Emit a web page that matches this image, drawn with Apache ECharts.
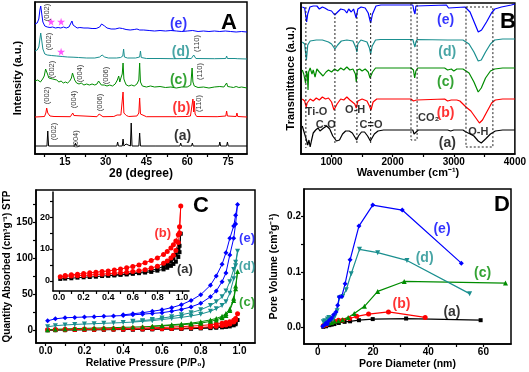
<!DOCTYPE html>
<html><head><meta charset="utf-8">
<script src="https://cdn.jsdelivr.net/npm/echarts@6/dist/echarts.min.js"></script>
<style>html,body{margin:0;padding:0;background:#fff}#c{width:529px;height:372px}</style>
</head><body><div id="c"></div>
<script>
// ---------- Panel A: XRD (2θ, intensity above each pattern's baseline) ----------
const xrdOffsets = [8, 37, 66, 95, 122]; // (a)..(e)
const xrdA = [[4,0],[8.4,0],[8.7,15],[9.0,0],[18.6,0],[18.9,3],[19.2,0],[34.1,0],[34.4,4],[34.7,0],[36.1,0],[36.4,7],[36.7,0],[37.3,0],[37.5,2],[37.7,0],[39.1,0],[39.4,23],[39.7,0],[42.2,0],[42.5,13],[42.8,0],[48.5,0],[48.7,2],[48.9,0],[57.3,0],[57.6,3],[57.9,0],[61.6,0],[61.9,3],[62.2,0],[71.7,0],[72,4],[72.3,0],[74.5,0],[74.8,4],[75.1,0],[76.1,0],[76.4,2],[76.7,0],[82,0]];
const xrdB = [[4,0],[7.5,0.5],[8.0,4],[8.3,9],[8.7,4],[9.5,1],[11,0.5],[17,0.3],[17.6,2],[17.9,4],[18.3,1.5],[19,0.3],[26.8,0.3],[27.3,2],[27.6,3],[28,1],[29,0.3],[33,0.5],[34.2,2],[34.8,3],[35.6,2],[36.1,4],[36.4,25],[36.7,4],[37.1,2.5],[37.6,1.5],[38.5,0.5],[41.5,1],[42.2,4],[42.5,19],[42.8,3],[43.5,1],[45,0.3],[56,0.3],[60,0.5],[61.2,1],[61.8,3],[62.1,18],[62.4,5],[62.6,16],[62.9,3],[63.5,0.5],[71,0.3],[74.2,1],[74.5,6],[74.8,1],[78,0.5],[78.3,4],[78.6,0.5],[82,0]];
const xrdC = [[4,7],[5,8],[6,6],[6.8,9],[7.4,12],[7.9,19],[8.2,20],[8.6,14],[9.1,10],[9.8,8],[10.5,9],[11.2,7],[12,8],[12.8,6],[13.6,7],[14.4,5],[15.2,6],[16,5],[16.8,7],[17.4,10],[17.8,15],[18.1,14],[18.6,8],[19.3,5],[20.2,4],[21,5],[22,3],[23,4],[24,3],[25,4],[26,3],[26.8,4],[27.4,7],[27.8,6],[28.4,3],[29.5,3],[30.5,2],[31.5,3],[32.5,2],[33.5,4],[34.3,8],[34.8,12],[35.2,6],[35.6,10],[36.1,14],[36.4,25],[36.7,9],[37.1,6],[37.6,3],[38.5,2],[39.5,3],[40.5,2],[41.5,4],[42.2,8],[42.5,25],[42.8,6],[43.5,2],[45,1],[46.5,2],[48,1],[50,1.5],[52,0.5],[54,1],[56,0],[58,1],[60,1],[61.3,3],[61.8,20],[62.1,6],[62.6,2],[64,0.5],[66,1],[68,0],[70,1],[72,1.5],[73.5,1],[74.2,2],[74.5,5],[74.9,1.5],[76,1],[77,0.5],[78,1.5],[79,0.5],[80,1],[82,0]];
const xrdD = [[4,8],[4.8,9],[5.4,12],[5.8,20],[6.1,26],[6.4,20],[6.9,10],[7.6,5],[8.5,4],[10,3.5],[12,3],[14,2.5],[16,2],[18,1.8],[20,1.5],[23,1],[26,1],[27.8,2],[28.7,4],[29.6,2],[31,1],[34,1],[35.5,1.5],[36.3,3],[36.6,10],[36.9,2],[38,1],[41,1],[42.5,2],[42.8,8],[43.1,1.5],[45,0.5],[50,0.5],[55,0.3],[61.5,0.5],[62.4,4],[63.2,0.5],[70,0.3],[74.2,0.5],[74.5,3],[74.8,0.5],[77.6,0.5],[78,2],[78.4,0.3],[82,0]];
const xrdE = [[4,8],[4.8,9],[5.4,13],[5.8,22],[6.1,26],[6.4,20],[6.9,10],[7.6,6],[8.5,5],[9.5,4.5],[10.5,5],[11.5,4],[12.5,4.5],[13.5,4],[14.5,5],[15.5,4],[16.5,5],[17.2,7],[17.6,11],[18,7],[18.6,5],[19.5,4],[20.5,4.5],[22,4],[23.5,4],[25,3.5],[26.5,3.5],[27.8,5],[28.5,8],[29,9],[29.6,6],[30.5,4],[32,3],[33.5,3],[35,4],[35.6,5.5],[36.2,3.5],[37.5,2.5],[39,2],[40.5,2.5],[41.5,3],[42.5,2],[44,2],[46,1.5],[48,1],[50,1.5],[52,1],[54,1.5],[56,1],[58,0.5],[60,1],[62,1.5],[64,0.5],[66,1],[68,0.5],[70,1],[72,0.5],[74,1],[76,0.5],[78,0],[80,0.5],[82,0]];
const peakLabelsA = [['(002)',8.3,141.5],['(002)',9.2,112.5],['(110)',63.7,110.5],['(002)',10.3,84.5],['(004)',20.6,80.5],['(006)',30.2,78.5],['(110)',64.7,82.5],['(002)',8.5,58.5],['(004)',18.4,54.5],['(006)',28,51.5],['(110)',64.5,50.5],['(002)',10.9,22.5],['(004)',18.9,15]];
const curveLabelsA = [['(a)',58.3,18],['(b)',57.9,46],['(c)',56.8,74],['(d)',57.6,102],['(e)',56.8,130]];
const starsA = [[9.9,132.3],[13.6,132.3],[13.6,102.3]];
const ticksA = [15,30,45,60,75];

// ---------- Panel B: FTIR (wavenumber, stacked transmittance) ----------
const ftirA = [[521,28],[550,22],[580,16],[610,9],[630,14],[650,7],[670,13],[700,21],[740,24],[780,26],[810,23],[840,21],[870,26],[920,28],[970,25],[1020,18],[1080,13],[1130,14],[1180,20],[1230,23],[1290,23],[1340,21],[1380,17],[1410,14],[1440,18],[1490,22],[1540,22],[1590,18],[1635,13],[1660,15],[1700,20],[1760,23],[1850,24],[2330,24],[2350,20],[2365,18],[2385,22],[2420,24],[2900,24],[2950,23],[3000,24],[3150,24],[3200,22],[3270,20],[3330,18],[3400,13],[3450,11],[3520,15],[3600,20],[3680,23],[3800,24],[4000,24]];
const ftirB = [[521,55],[560,53],[585,47],[600,51],[650,55],[700,53],[750,56],[800,54],[850,57],[900,55],[950,56],[1000,52],[1040,44],[1060,42],[1090,50],[1150,55],[1200,54],[1250,57],[1300,54],[1380,50],[1405,46],[1430,53],[1500,55],[1580,53],[1620,48],[1645,44],[1680,52],[1740,55],[2300,55],[2340,53],[2365,51],[2390,54],[2420,55],[2850,55],[2900,53],[2930,51],[2960,54],[3050,54],[3100,53],[3200,47],[3280,43],[3350,37],[3420,31],[3470,34],[3540,42],[3620,51],[3680,54],[3800,55],[4000,55]];
const ftirC = [[521,84],[545,80],[560,82],[575,71],[590,83],[605,79],[615,64],[625,82],[650,86],[680,80],[700,84],[730,77],[760,85],[800,82],[830,84],[860,78],[890,76],[910,82],[950,84],[1000,82],[1050,85],[1100,83],[1150,86],[1200,84],[1250,87],[1300,84],[1350,85],[1390,80],[1405,72],[1420,84],[1460,85],[1500,83],[1550,85],[1600,82],[1630,76],[1645,74],[1670,82],[1720,86],[1800,86],[2300,86],[2340,84],[2360,76],[2380,83],[2410,86],[2850,86],[2900,84],[2930,82],[2960,85],[3000,83],[3050,85],[3150,85],[3250,81],[3330,72],[3400,62],[3450,66],[3520,76],[3600,83],[3670,85],[3800,86],[4000,86]];
const ftirD = [[521,112],[560,110],[588,94],[610,109],[650,113],[750,114],[850,114],[950,112],[1000,110],[1055,105],[1100,109],[1160,113],[1250,114],[1350,113],[1400,106],[1415,102],[1430,110],[1480,114],[1580,112],[1620,106],[1640,100],[1665,108],[1720,114],[1800,114.5],[2330,114.5],[2350,110],[2365,107],[2380,112],[2400,114.5],[2900,114],[2920,112],[2950,114],[3150,114],[3250,110],[3330,102],[3400,93],[3450,94],[3520,102],[3600,110],[3670,114],[3800,115],[4000,115]];
const ftirE = [[521,147],[560,146],[592,132],[610,140],[646,147],[700,148],[727,146],[760,148],[800,145],[850,147],[889,146],[943,144],[1000,143],[1051,139],[1100,142],[1150,145],[1213,144],[1250,141],[1280,145],[1322,142],[1360,145],[1403,136],[1430,145],[1484,147],[1550,146],[1600,141],[1640,131],[1670,140],[1727,148],[1808,149],[2330,149],[2345,144],[2355,146],[2365,140],[2380,148],[2400,149],[2880,149],[2915,146],[2940,148],[3185,147],[3266,142],[3347,130],[3401,122],[3455,124],[3536,132],[3617,141],[3672,145],[3780,147],[3942,149],[4000,150]];
const bandLinesB = [[580,147,6],[1055,141,10],[1415,141,10],[1640,141,10]]; // wavenumber, top, bottom
const bandBoxesB = [[2300,2400,151,14],[3200,3640,147,7]];
const annB = [['Ti-O',754,42.3],['C-O',905,29],['O-H',1387,44],['C=O',1646,29],['CO₂',2591,35.7],['O-H',3401,22.3]];
const curveLabelsB = [['(a)',2894,10.7],['(b)',2866,40.7],['(c)',2866,72.3],['(d)',2894,102.3],['(e)',2866,134]];
const ticksB = [1000,2000,3000,4000];

// ---------- Panel C: N2 isotherms ----------
const pAds = [0.01,0.05,0.1,0.15,0.2,0.25,0.3,0.35,0.4,0.45,0.5,0.55,0.6,0.65,0.7,0.75,0.8,0.85,0.88,0.91,0.93,0.95,0.97,0.98,0.99];
const pDes = [0.98,0.97,0.95,0.93,0.91,0.88,0.85,0.8,0.75,0.7,0.65,0.6,0.55,0.5,0.45,0.4,0.35,0.3,0.25,0.2,0.15,0.1,0.05];
const adsA = [0.6,0.7,0.8,1.0,1.1,1.2,1.3,1.5,1.6,1.7,1.9,2.0,2.2,2.4,2.6,2.8,3.2,3.6,4.1,4.7,5.3,6.0,7.5,9.0,14.8];
const desA = [11,9.8,8.2,7.0,6.0,5.2,4.5,3.8,3.3,2.9,2.6,2.4,2.2,2.0,1.8,1.7];
const adsB = [1.3,1.4,1.5,1.6,1.7,1.8,2.0,2.1,2.2,2.4,2.5,2.7,2.9,3.2,3.5,4.0,4.6,5.5,6.2,7.2,8.0,9.5,12,15,23.5];
const desB = [17,14.5,12.5,11.3,10.3,9.2,8.3,7.2,6.4,5.7,5.0,4.5,4.1,3.7,3.4,3.1,2.9,2.7,2.5,2.3,2.1,1.9,1.7];
const adsC = [1.5,2,2.5,3,3.3,3.7,4,4.3,4.7,5,5.5,6,6.8,7.5,8.3,9.3,10.5,13,15,18,21,28,42,58,82];
const desC = [62,45,30,24,20,17,15,12.5,10.5,9.3,8.3,7.3,6.3];
const adsD = [5.5,7,8,8.7,9.3,9.8,10.3,10.8,11.3,12,13,14,15.5,17,18.5,20.5,23,27,30.5,35,40,52,72,90,110];
const desD = [95,85,68,55,47,40,35,29,25,22,19.5,17.5,15.5,14,13];
const adsE = [13.8,16.5,18,18.5,19,19.5,20,20.5,21,22,23,24,25,27,29.5,33,38,47,55,68,80,105,128,148,175];
const desE = [160,145,128,108,92,76,63,50,42,36,32,29,27,25,23.5,22];
const curveLabelsC = [['(c)',1.039,39.8],['(d)',1.039,89.6],['(e)',1.039,128.4]];
const curveLabelsInset = [['(a)',1.024,3.5],['(b)',0.843,14.8]];

// ---------- Panel D: pore size distributions ----------
const psdA = [[2,0.001],[3,0.002],[4.2,0.004],[5,0.005],[6,0.006],[7.6,0.008],[9.7,0.01],[11.7,0.011],[14.9,0.013],[19.9,0.015],[32,0.016],[59,0.013]];
const psdB = [[2,0.003],[3,0.005],[4,0.008],[5,0.01],[6,0.011],[7.5,0.013],[9,0.013],[11.5,0.016],[14.1,0.02],[18.4,0.024],[25.6,0.028],[38.9,0.018]];
const psdC = [[2,0.005],[3,0.007],[4,0.008],[5,0.009],[6,0.011],[7.5,0.012],[9,0.014],[11,0.018],[13.2,0.025],[16.9,0.038],[21.7,0.065],[31.3,0.083],[68,0.08]];
const psdD = [[2,0.01],[2.5,0.012],[3,0.009],[3.5,0.015],[4,0.018],[4.5,0.012],[5,0.016],[5.5,0.014],[6.2,0.02],[7,0.03],[7.8,0.053],[9,0.056],[10.3,0.068],[12.1,0.097],[15.1,0.141],[21.7,0.135],[32.3,0.121],[55,0.061]];
const psdE = [[1.8,0.002],[2.5,0.005],[3,0.008],[3.5,0.006],[4,0.012],[4.5,0.014],[5,0.017],[5.7,0.023],[6.6,0.028],[7.2,0.04],[7.8,0.055],[8.7,0.056],[9.9,0.079],[11.7,0.122],[14.9,0.183],[19.9,0.221],[30.6,0.212],[52,0.116]];
const curveLabelsD = [['(a)',48.6,0.0276],['(b)',30.3,0.0414],['(c)',59.7,0.0986],['(d)',38.7,0.1256],['(e)',45,0.1766]];

const colors = ['#000000','#ff0000','#008c00','#1a8f8f','#0000ff']; // (a)..(e)
const symbols = ['rect','circle','triangle','triangle','diamond'];
const symRot = [0,0,0,180,0];

// ---------- build ----------
const FONT = "Arial, 'Liberation Sans', sans-serif";
const plain = v => String(v);
function axis(o){
  return {
    type:'value', gridIndex:o.g, min:o.min, max:o.max,
    axisLine:{show:true,onZero:false,lineStyle:{color:'#000',width:1.5}},
    axisTick:{show:!!o.ticks,inside:false,length:3,lineStyle:{color:'#000',width:1.2},customValues:o.ticks},
    axisLabel:{show:!!o.labels,customValues:o.labels,color:'#000',fontSize:o.fs||10,fontWeight:'bold',fontFamily:FONT,margin:o.margin||3,formatter:o.fmt||plain},
    splitLine:{show:false},
    name:o.name, nameLocation:'middle', nameGap:o.gap,
    nameTextStyle:{color:'#000',fontSize:o.nfs||11,fontWeight:'bold',fontFamily:FONT}
  };
}
const f1 = v => v.toFixed(1);
const xAxes = [
  axis({g:0,min:4,max:82,ticks:[7.5,15,22.5,30,37.5,45,52.5,60,67.5,75],labels:ticksA,name:'2θ (degree)',gap:13,nfs:12}),
  axis({g:1,min:500,max:4000,ticks:[1000,1500,2000,2500,3000,3500],labels:ticksB,name:'Wavenumber (cm⁻¹)',gap:13}),
  axis({g:2,min:-0.05,max:1.08,ticks:[0,0.1,0.2,0.3,0.4,0.5,0.6,0.7,0.8,0.9,1.0],labels:[0,0.2,0.4,0.6,0.8,1.0],fmt:f1,name:'Relative Pressure (P/P₀)',gap:15,nfs:10.5}),
  axis({g:3,min:-5,max:70,ticks:[0,10,20,30,40,50,60],labels:[0,20,40,60],name:'Pore Diameter (nm)',gap:15,nfs:10.5}),
  axis({g:4,min:-0.049,max:1.057,ticks:[0,0.1,0.2,0.3,0.4,0.5,0.6,0.7,0.8,0.9,1.0],labels:[0,0.2,0.4,0.6,0.8,1.0],fmt:f1,fs:9,margin:2})
];
const yAxes = [
  axis({g:0,min:0,max:152,name:'Intensity (a.u.)',gap:12}),
  axis({g:1,min:0,max:151,name:'Transmittance (a.u.)',gap:5}),
  axis({g:2,min:-17,max:195,ticks:[0,25,50,75,100,125,150,175],labels:[0,50,100,150],name:'Quantity Absorbed (cm³g⁻¹) STP',gap:22,nfs:10}),
  axis({g:3,min:-0.03,max:0.25,ticks:[0,0.05,0.1,0.15,0.2],labels:[0,0.1,0.2],fmt:f1,name:'Pore Volume (cm³g⁻¹)',gap:24,nfs:10.5}),
  axis({g:4,min:-3.2,max:27.9,ticks:[0,5,10,15,20,25],labels:[0,10,20],fs:9,margin:3})
];
const frame = {show:true,borderColor:'#000',borderWidth:1.5,backgroundColor:'transparent'};
const grids = [
  Object.assign({left:35,top:2,width:212,height:152},frame),
  Object.assign({left:301,top:3,width:216,height:151},frame),
  Object.assign({left:36,top:190,width:219,height:153},frame),
  Object.assign({left:304,top:189,width:207,height:155},frame),
  {left:53,top:192,width:136,height:99,show:false}
];

const series = [];
function textSeries(g, items, style){
  series.push({type:'scatter',xAxisIndex:g,yAxisIndex:g,silent:true,symbolSize:1,z:5,
    itemStyle:{color:'rgba(0,0,0,0)'},
    data:items.map((t,i)=>({name:t[0],value:[t[1],t[2]],label:style.colors?{color:style.colors[i]}:undefined})),
    label:Object.assign({show:true,position:'inside',formatter:'{b}',fontFamily:FONT,color:'#000'},style.label)});
}
// A
[xrdA,xrdB,xrdC,xrdD,xrdE].forEach((d,i)=>{
  series.push({type:'line',xAxisIndex:0,yAxisIndex:0,showSymbol:false,silent:true,
    lineStyle:{color:colors[i],width:1},data:d.map(p=>[p[0],p[1]+xrdOffsets[i]])});
});
series.push({type:'scatter',xAxisIndex:0,yAxisIndex:0,silent:true,symbol:'path://M50,0 L61,35 L98,35 L68,57 L79,91 L50,70 L21,91 L32,57 L2,35 L39,35 Z',symbolSize:8,itemStyle:{color:'#ff2cff'},data:starsA});
textSeries(0,peakLabelsA,{label:{rotate:90,fontSize:7.5,color:'#000'}});
textSeries(0,curveLabelsA,{colors:colors,label:{fontSize:14,fontWeight:'bold'}});
// B
[ftirA,ftirB,ftirC,ftirD,ftirE].forEach((d,i)=>{
  series.push({type:'line',xAxisIndex:1,yAxisIndex:1,showSymbol:false,silent:true,
    lineStyle:{color:colors[i],width:1.2},data:d});
});
const dot = {color:'#222',width:1,type:[2,2]};
bandLinesB.forEach(l=>series.push({type:'line',xAxisIndex:1,yAxisIndex:1,showSymbol:false,silent:true,lineStyle:dot,data:[[l[0],l[1]],[l[0],l[2]]]}));
bandBoxesB.forEach(b=>series.push({type:'line',xAxisIndex:1,yAxisIndex:1,showSymbol:false,silent:true,lineStyle:dot,
  data:[[b[0],b[2]],[b[1],b[2]],[b[1],b[3]],[b[0],b[3]],[b[0],b[2]]]}));
textSeries(1,annB,{label:{fontSize:11,fontWeight:'bold'}});
textSeries(1,curveLabelsB,{colors:colors,label:{fontSize:14,fontWeight:'bold'}});
// C
const ads=[adsA,adsB,adsC,adsD,adsE], des=[desA,desB,desC,desD,desE];
function iso(i){ return pAds.map((p,k)=>[p,ads[i][k]]).concat(des[i].map((q,k)=>[pDes[k],q])); }
[0,1,2,3,4].forEach(i=>{
  series.push({type:'line',xAxisIndex:2,yAxisIndex:2,silent:true,symbol:symbols[i],symbolRotate:symRot[i],symbolSize:i===0?4:5,
    itemStyle:{color:colors[i]},lineStyle:{color:colors[i],width:1},data:iso(i)});
});
[0,1].forEach(i=>{
  series.push({type:'line',xAxisIndex:4,yAxisIndex:4,silent:true,symbol:symbols[i],symbolSize:i===0?4:5,
    itemStyle:{color:colors[i]},lineStyle:{color:colors[i],width:1},data:iso(i)});
});
textSeries(2,curveLabelsC,{colors:[colors[2],colors[3],colors[4]],label:{fontSize:13,fontWeight:'bold'}});
textSeries(4,curveLabelsInset,{colors:[colors[0],colors[1]],label:{fontSize:13,fontWeight:'bold'}});
// D
[psdA,psdB,psdC,psdD,psdE].forEach((d,i)=>{
  series.push({type:'line',xAxisIndex:3,yAxisIndex:3,silent:true,symbol:symbols[i],symbolRotate:symRot[i],symbolSize:i===0?4:5,
    itemStyle:{color:colors[i]},lineStyle:{color:colors[i],width:1.2},data:d});
});
textSeries(3,curveLabelsD,{colors:colors,label:{fontSize:14,fontWeight:'bold'}});

const letter = (t,x,y)=>({type:'text',x:x,y:y,style:{text:t,fill:'#000',font:'bold 22px '+FONT,textAlign:'center',textVerticalAlign:'middle'}});
const chart = echarts.init(document.getElementById('c'),null,{renderer:'canvas'});
chart.setOption({
  animation:false, backgroundColor:'#fff',
  grid:grids, xAxis:xAxes, yAxis:yAxes, series:series,
  graphic:[letter('A',229,23),letter('B',508,22),letter('C',201,206),letter('D',502,205)]
});
</script></body></html>
